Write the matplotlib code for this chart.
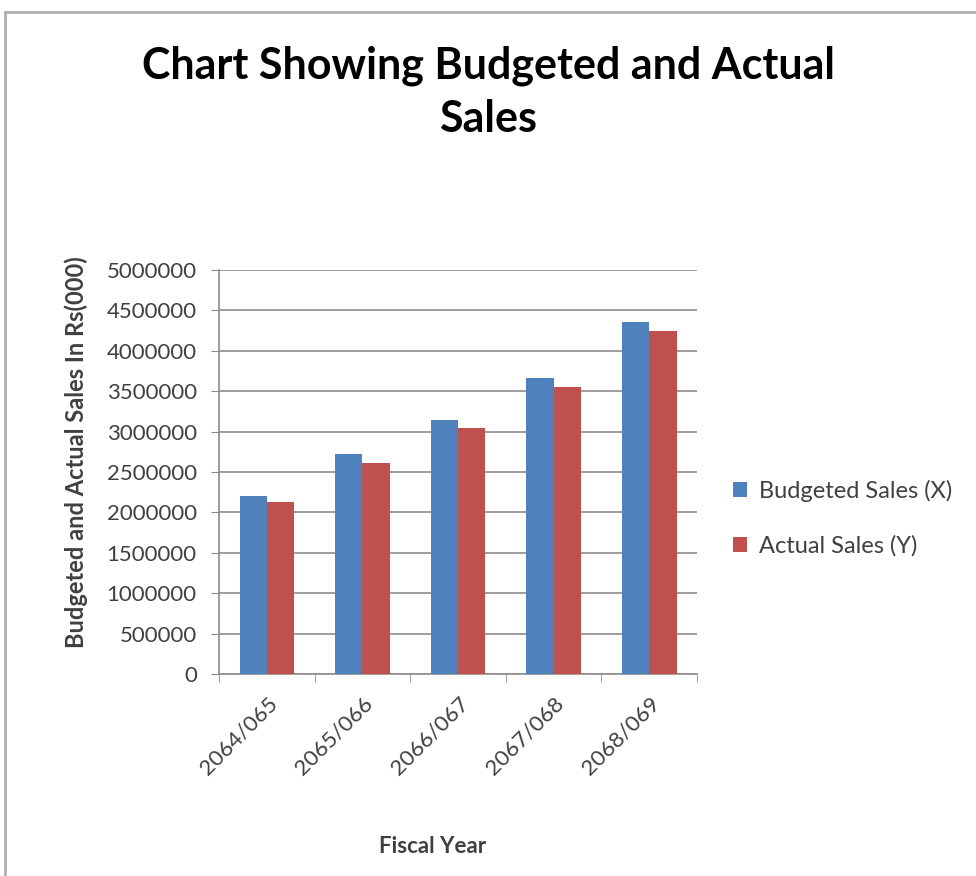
import numpy as np
import matplotlib.pyplot as plt
from matplotlib.patches import Rectangle

years = ['2064/065', '2065/066', '2066/067', '2067/068', '2068/069']
budgeted = [2207000, 2723000, 3148000, 3659000, 4360000]
actual = [2132000, 2615000, 3040000, 3552000, 4245000]

plt.rcParams['font.family'] = ['Lato', 'DejaVu Sans']

fig = plt.figure(figsize=(9.76, 8.76), dpi=100)
ax = fig.add_axes([0.2244, 0.2306, 0.4898, 0.4612])

# chart area frame (runs off the right and bottom edges)
fig.patches.append(Rectangle((5 / 976, -0.1), 1.2, 1 - 12 / 876 + 0.1,
                             transform=fig.transFigure, fill=False,
                             edgecolor='#b0b0b0', linewidth=2))

x = np.arange(len(years))
w = 1 / 3.5
ax.bar(x - w / 2, budgeted, w, color='#4f81bd', label='Budgeted Sales (X)', zorder=3)
ax.bar(x + w / 2, actual, w, color='#c0504d', label='Actual Sales (Y)', zorder=3)

ax.set_xlim(-0.5, 4.5)
ax.set_ylim(0, 5000000)
ax.set_yticks(np.arange(0, 5000001, 500000))
ax.set_yticklabels([str(v) for v in range(0, 5000001, 500000)])
ax.yaxis.grid(True, color='#8c8c8c', linewidth=1.2, zorder=0)

ax.set_xticks(x)
ax.set_xticklabels(years, rotation=45, ha='right', rotation_mode='anchor')
ax.set_xticks(np.arange(-0.5, 5, 1), minor=True)
ax.tick_params(axis='x', which='major', length=0, pad=14, labelsize=16, colors='#404040')
ax.tick_params(axis='x', which='minor', length=6, color='#8c8c8c')
ax.tick_params(axis='y', length=6, color='#8c8c8c', labelsize=16, labelcolor='#404040', pad=10)

for s in ['top', 'right']:
    ax.spines[s].set_visible(False)
for s in ['left', 'bottom']:
    ax.spines[s].set_color('#8c8c8c')
    ax.spines[s].set_linewidth(1.2)

ax.set_ylabel('Budgeted and Actual Sales In Rs(000)', fontsize=17, fontweight='bold',
              color='#404040')
ax.yaxis.set_label_coords(-0.275, 0.55)
ax.set_xlabel('Fiscal Year', fontsize=16, fontweight='bold', color='#404040')
ax.xaxis.set_label_coords(0.446, -0.40)

fig.text(0.5, 0.948, 'Chart Showing Budgeted and Actual\nSales', ha='center', va='top',
         fontsize=31, fontweight='bold', color='black', linespacing=1.4)

ax.legend(loc='center left', bbox_to_anchor=(1.03, 0.385), frameon=False, fontsize=17,
          handlelength=0.6, handleheight=0.6, handletextpad=0.5, labelspacing=1.4,
          labelcolor='#404040')

fig.savefig('out.png', dpi=100)
